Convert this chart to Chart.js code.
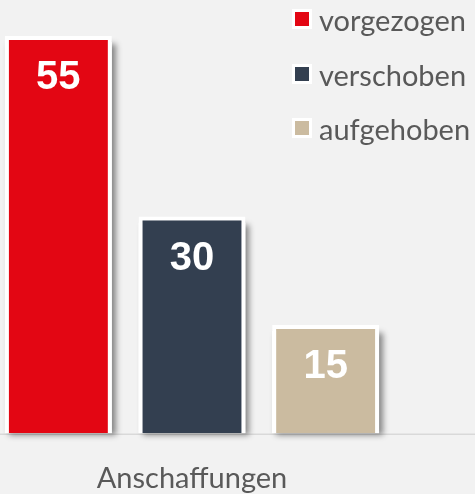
<!DOCTYPE html>
<html>
<head>
<meta charset="utf-8">
<script src="https://cdn.jsdelivr.net/npm/chart.js@4/dist/chart.umd.min.js"></script>
<style>
  body { margin: 0; background: #F2F2F2; }
  #wrap { position: relative; width: 475px; height: 494px; }
  #legend { position: absolute; left: 292px; top: 0; font-family: Lato, "Open Sans", sans-serif; font-size: 29px; color: #595959; }
  .item { position: absolute; left: 0; height: 36px; display: flex; align-items: center; white-space: nowrap; }
  .box { width: 14px; height: 14px; border: 3px solid #fff; margin-right: 7px; }
</style>
</head>
<body>
<div id="wrap">
  <canvas id="chart" width="475" height="494"></canvas>
  <div id="legend"></div>
</div>
<script>
// data
var categories = ["Anschaffungen"];
var seriesNames = ["vorgezogen", "verschoben", "aufgehoben"];
var seriesValues = [[55], [30], [15]];
var seriesColors = ["#E30613", "#333F50", "#CBBBA0"];

var datasets = [];
for(let i = 0; i < seriesNames.length; i++){
    datasets.push({
        label: seriesNames[i],
        data: seriesValues[i],
        backgroundColor: seriesColors[i],
        borderColor: "#ffffff",
        borderWidth: 4,
        borderSkipped: "start"
    });
}

// legend built from the series
var legendDiv = document.getElementById("legend");
var rowTops = [1, 56, 110];
for(let i = 0; i < seriesNames.length; i++){
    let item = document.createElement("div");
    item.className = "item";
    item.style.top = rowTops[i] + "px";
    let box = document.createElement("span");
    box.className = "box";
    box.style.background = seriesColors[i];
    let txt = document.createElement("span");
    txt.textContent = seriesNames[i];
    item.appendChild(box);
    item.appendChild(txt);
    legendDiv.appendChild(item);
}

// shadow behind bars + long axis line
var shadowPlugin = {
    id: "barShadow",
    beforeDatasetsDraw(chart){
        let ctx = chart.ctx;
        ctx.save();
        ctx.strokeStyle = "#D9D9D9";
        ctx.lineWidth = 1.5;
        ctx.beginPath();
        ctx.moveTo(0, chart.chartArea.bottom + 1);
        ctx.lineTo(chart.width, chart.chartArea.bottom + 1);
        ctx.stroke();
        ctx.shadowColor = "rgba(0,0,0,0.45)";
        ctx.shadowBlur = 6;
        ctx.shadowOffsetX = 4;
        ctx.shadowOffsetY = 2;
        ctx.fillStyle = "#ffffff";
        chart.data.datasets.forEach((ds, i) => {
            chart.getDatasetMeta(i).data.forEach((bar) => {
                let w = bar.width;
                ctx.fillRect(bar.x - w / 2, bar.y + 6, w, bar.base - bar.y - 6);
            });
        });
        ctx.restore();
    }
};

// white value labels inside bars
var labelPlugin = {
    id: "barLabels",
    afterDatasetsDraw(chart){
        let ctx = chart.ctx;
        ctx.save();
        ctx.fillStyle = "#ffffff";
        ctx.font = "bold 40px 'Liberation Sans', Arial, sans-serif";
        ctx.textAlign = "center";
        ctx.textBaseline = "middle";
        chart.data.datasets.forEach((ds, i) => {
            chart.getDatasetMeta(i).data.forEach((bar, j) => {
                ctx.fillText(String(ds.data[j]), bar.x, bar.y + 42);
            });
        });
        ctx.restore();
    }
};

new Chart(document.getElementById("chart"), {
    type: "bar",
    data: {
        labels: categories,
        datasets: datasets
    },
    options: {
        responsive: false,
        animation: false,
        events: [],
        categoryPercentage: 1.044,
        barPercentage: 0.8,
        layout: { padding: { top: 0, right: 91, left: 0, bottom: -30 } },
        plugins: {
            legend: { display: false },
            tooltip: { enabled: false }
        },
        scales: {
            x: {
                grid: { display: false, drawTicks: false },
                border: { display: false },
                ticks: {
                    color: "#595959",
                    padding: 28,
                    font: { family: "Lato, 'Open Sans', sans-serif", size: 29 }
                }
            },
            y: {
                display: false,
                min: 0,
                max: 60
            }
        }
    },
    plugins: [shadowPlugin, labelPlugin]
});
</script>
</body>
</html>
